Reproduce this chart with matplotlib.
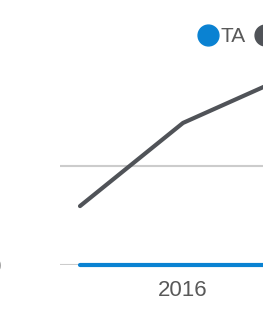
import matplotlib.pyplot as plt
from matplotlib.lines import Line2D

# data
categories = ['2015', '2016', '2017']
ta_values = [0, 0, 0]
other_values = [1.19, 2.87, 3.8]
series_names = ['TA', 'Peers']
y_ticks = [0, 2]
x_tick_labels = ['', '2016', '']

blue = '#0a82d2'
grey = '#505358'
text_col = '#595959'

plt.rcParams['font.family'] = ['Liberation Sans', 'DejaVu Sans']

W, H = 263, 309
fig = plt.figure(figsize=(W / 100, H / 100), dpi=100)

# axes runs off the right edge, like the cropped original
left_px, right_px, bottom_px = 60, 400, 265
step_px = 103
unit_px = 49.5
ymax = 4.4
ax = fig.add_axes([left_px / W, 1 - bottom_px / H,
                   (right_px - left_px) / W, ymax * unit_px / H])

x = list(range(len(categories)))
a = 20 / step_px
ax.set_xlim(-a, (right_px - left_px) / step_px - a)
ax.set_ylim(0, ymax)

ax.plot(x, other_values, color=grey, lw=3, solid_capstyle='round', clip_on=False, zorder=3)
ax.plot(x, ta_values, color=blue, lw=3, solid_capstyle='round', clip_on=False, zorder=4)

ax.set_yticks(y_ticks)
ax.set_yticklabels([str(v) for v in y_ticks])
ax.set_xticks(x)
ax.set_xticklabels(x_tick_labels)
ax.grid(axis='y', color='#cccccc', lw=1.5)
ax.set_axisbelow(True)
for s in ax.spines.values():
    s.set_visible(False)
ax.tick_params(axis='both', length=0, labelsize=16, colors=text_col)
ax.tick_params(axis='y', pad=42.8)
ax.tick_params(axis='x', pad=11)

handles = [Line2D([], [], marker='o', ls='none', color=blue, markersize=15),
           Line2D([], [], marker='o', ls='none', color=grey, markersize=15)]
leg = fig.legend(handles, series_names, loc='upper left', ncol=2,
                 bbox_to_anchor=(188 / W, 1 - 17 / H), frameon=False,
                 borderpad=0, handlelength=0.9, handletextpad=0.15,
                 columnspacing=0.5, fontsize=15, labelcolor=text_col)

fig.savefig('out.png', dpi=100)
